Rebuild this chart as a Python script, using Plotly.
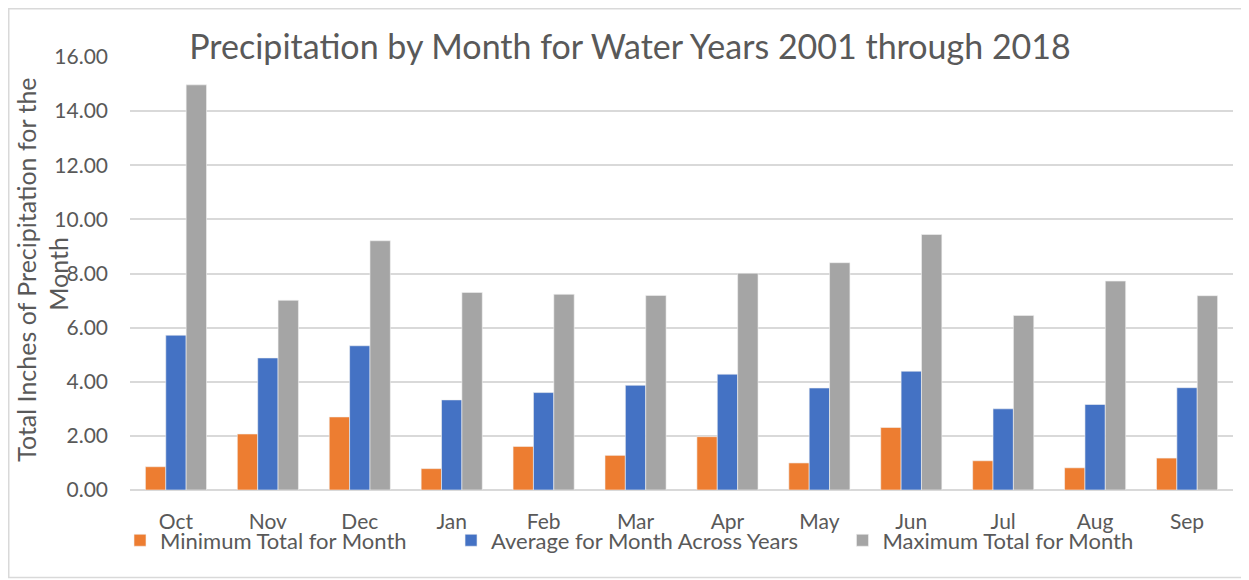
import plotly.graph_objects as go

months = ["Oct", "Nov", "Dec", "Jan", "Feb", "Mar", "Apr", "May", "Jun", "Jul", "Aug", "Sep"]
min_total = [0.86, 2.07, 2.70, 0.79, 1.61, 1.28, 1.97, 1.00, 2.31, 1.08, 0.82, 1.18]
avg_total = [5.72, 4.88, 5.33, 3.33, 3.60, 3.87, 4.28, 3.77, 4.39, 3.00, 3.16, 3.78]
max_total = [14.97, 7.01, 9.21, 7.30, 7.23, 7.19, 8.01, 8.40, 9.44, 6.45, 7.72, 7.18]

series_names = ["Minimum Total for Month", "Average for Month Across Years", "Maximum Total for Month"]
series_colors = ["#ED7D31", "#4472C4", "#A5A5A5"]

FONT = "Lato"
TXT = "#595959"
GRID = "#D9D9D9"
PAD = "\u00a0" * 7  # extra room between legend entries

fig = go.Figure()
for i, (name, vals, col) in enumerate(zip(series_names, [min_total, avg_total, max_total], series_colors)):
    fig.add_trace(go.Bar(
        x=months, y=vals, name=name + (PAD if i < 2 else ""),
        marker=dict(color=col, line=dict(color="#F2F2F2", width=0.6)),
    ))

# the page body has an 8px margin; work in screen pixels and subtract it
OFF = 8
W, H = 1249 - OFF, 580 - OFF
L, R, T, B = 130 - OFF, 16, 57 - OFF, 89.5
pw = W - L - R
ph = H - T - B


def px(xs):
    return (xs - OFF - L) / pw


def py(ys):
    return (ph - (ys - OFF - T)) / ph


fig.update_layout(
    width=W, height=H,
    margin=dict(l=L, r=R, t=T, b=B, autoexpand=False),
    paper_bgcolor="white", plot_bgcolor="white",
    barmode="group", bargap=0.335, bargroupgap=0,
    font=dict(family=FONT, color=TXT, size=21),
    title=dict(text="Precipitation by Month for Water Years 2001 through 2018",
               x=(630 - OFF) / W, xref="container", xanchor="center",
               y=1 - (47 - OFF) / H, yref="container", yanchor="middle",
               font=dict(family=FONT, size=34, color=TXT)),
    legend=dict(orientation="h", x=px(120), xanchor="left",
                y=py(541), yanchor="middle",
                font=dict(family=FONT, size=22, color=TXT),
                itemwidth=30, tracegroupgap=0, bgcolor="rgba(0,0,0,0)"),
    showlegend=True,
)
fig.update_xaxes(showgrid=False, showline=False, zeroline=False, ticks="",
                 tickfont=dict(family=FONT, size=21, color=TXT), ticklabelstandoff=17)
fig.update_yaxes(range=[0, 16], dtick=2, tickformat=".2f", showgrid=True, gridcolor=GRID,
                 gridwidth=1.5, zeroline=True, zerolinecolor=GRID, zerolinewidth=1.5,
                 showline=False, ticks="", tickfont=dict(family=FONT, size=21, color=TXT),
                 ticklabelstandoff=21)

# y axis title, wrapped on two lines as in the original
fig.add_annotation(text="Total Inches of Precipitation for the", textangle=-90,
                   xref="paper", yref="paper", x=px(26), y=py(270),
                   xanchor="center", yanchor="middle", showarrow=False,
                   font=dict(family=FONT, size=25, color=TXT))
fig.add_annotation(text="Month", textangle=-90,
                   xref="paper", yref="paper", x=px(58), y=py(274),
                   xanchor="center", yanchor="middle", showarrow=False,
                   font=dict(family=FONT, size=25, color=TXT))

# chart border
fig.add_shape(type="rect", xref="paper", yref="paper", layer="below",
              x0=px(OFF + 0.75), x1=px(1247.5),
              y0=py(578), y1=py(OFF + 0.75),
              line=dict(color=GRID, width=1.5), fillcolor="rgba(0,0,0,0)")

fig.write_html("out.html")
